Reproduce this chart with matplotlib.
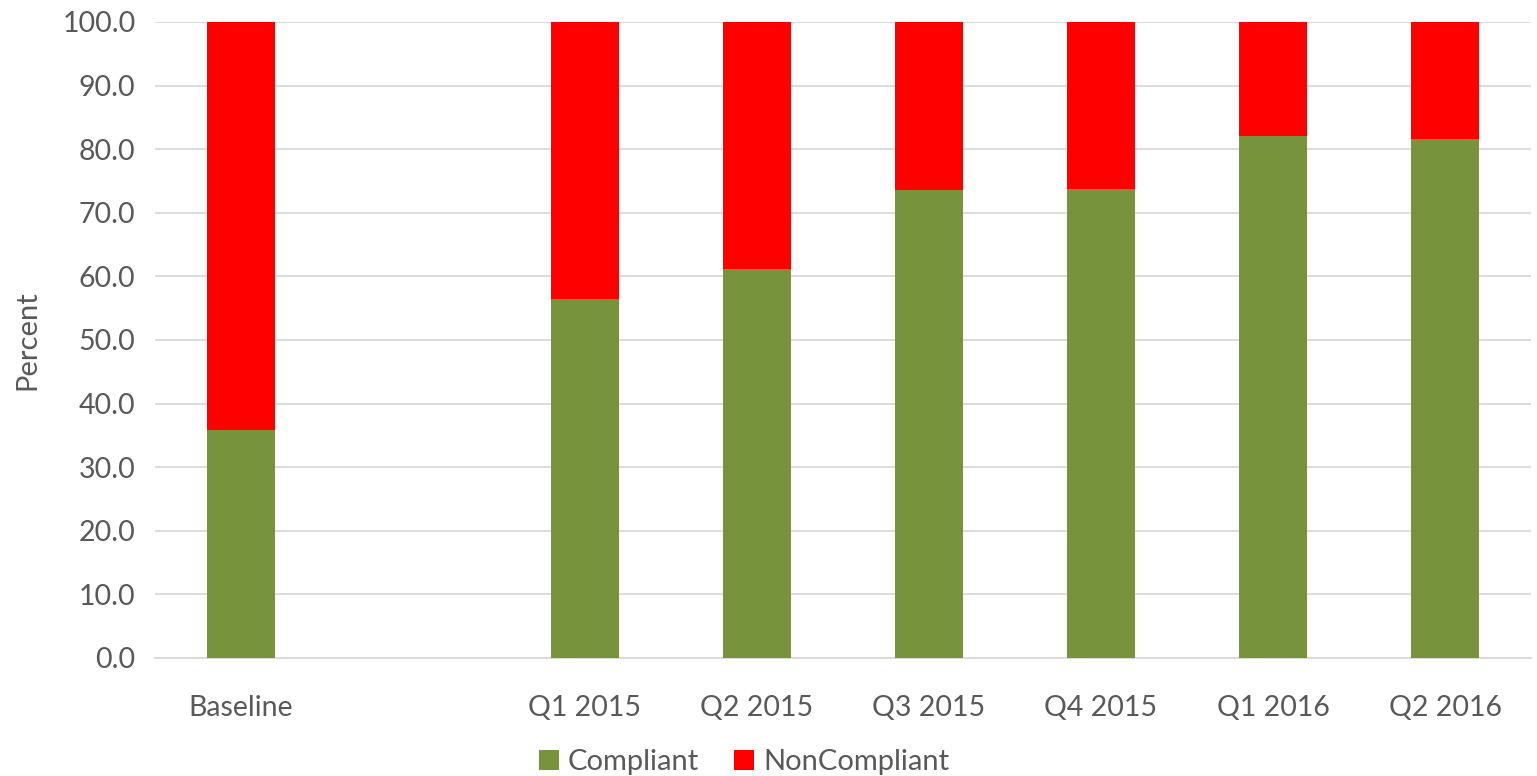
import numpy as np
import matplotlib.pyplot as plt

categories = ["Baseline", "", "Q1 2015", "Q2 2015", "Q3 2015", "Q4 2015", "Q1 2016", "Q2 2016"]
compliant = [35.8, np.nan, 56.5, 61.2, 73.6, 73.7, 82.0, 81.6]
noncompliant = [100 - v for v in compliant]

plt.rcParams['font.family'] = ['Lato', 'DejaVu Sans']

fig = plt.figure(figsize=(15.37, 7.76), dpi=100)
ax = fig.add_axes([155 / 1537, 1 - 658 / 776, (1531 - 155) / 1537, (658 - 22) / 776])

x = np.arange(len(categories))
ax.bar(x, compliant, width=0.4, color='#77933C', label='Compliant', zorder=3)
ax.bar(x, noncompliant, width=0.4, bottom=compliant, color='#FF0000', label='NonCompliant', zorder=3)

ax.set_xlim(-0.5, len(categories) - 0.5)
ax.set_ylim(0, 100)
ax.set_yticks(np.arange(0, 101, 10))
ax.set_yticklabels([f"{v:.1f}" for v in np.arange(0, 101, 10)])
ax.set_xticks(x)
ax.set_xticklabels(categories)
ax.grid(axis='y', color='#D9D9D9', linewidth=1.3, zorder=0)
ax.tick_params(length=0, labelsize=20.5, labelcolor='#595959')
ax.tick_params(axis='x', pad=27)
ax.tick_params(axis='y', pad=14)
for s in ['left', 'right', 'top']:
    ax.spines[s].set_visible(False)
ax.spines['bottom'].set_color('#D9D9D9')
ax.spines['bottom'].set_linewidth(1.3)
ax.set_ylabel('Percent', fontsize=21, color='#595959', labelpad=16)

fig.legend(loc='lower center', bbox_to_anchor=(0.484, -0.033), ncol=2, frameon=False,
           fontsize=21, labelcolor='#595959', handlelength=0.7, handleheight=0.7,
           handletextpad=0.3, columnspacing=1.2)

fig.savefig('out.png', dpi=100)
